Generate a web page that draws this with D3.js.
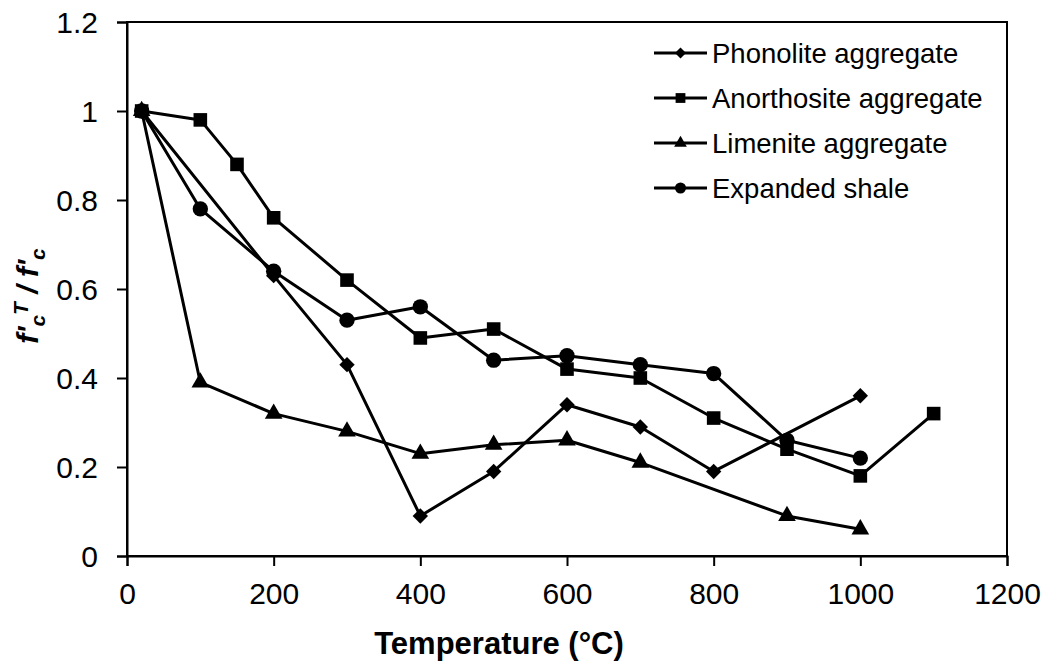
<!DOCTYPE html>
<html>
<head>
<meta charset="utf-8">
<script src="https://cdn.jsdelivr.net/npm/d3@7"></script>
<style>
  html, body { margin: 0; padding: 0; background: #fff; }
  svg { display: block; font-family: "Liberation Sans", Arial, sans-serif; }
</style>
</head>
<body>
<svg id="chart" width="1048" height="668"></svg>
<script>
// Relative residual compressive strength vs. exposure temperature
const phonoliteT = [20, 200, 300, 400, 500, 600, 700, 800, 1000];
const phonoliteV = [1.00, 0.63, 0.43, 0.09, 0.19, 0.34, 0.29, 0.19, 0.36];

const anorthositeT = [20, 100, 150, 200, 300, 400, 500, 600, 700, 800, 900, 1000, 1100];
const anorthositeV = [1.00, 0.98, 0.88, 0.76, 0.62, 0.49, 0.51, 0.42, 0.40, 0.31, 0.24, 0.18, 0.32];

const limeniteT = [20, 100, 200, 300, 400, 500, 600, 700, 900, 1000];
const limeniteV = [1.00, 0.39, 0.32, 0.28, 0.23, 0.25, 0.26, 0.21, 0.09, 0.06];

const shaleT = [20, 100, 200, 300, 400, 500, 600, 700, 800, 900, 1000];
const shaleV = [1.00, 0.78, 0.64, 0.53, 0.56, 0.44, 0.45, 0.43, 0.41, 0.26, 0.22];

const seriesNames = ["Phonolite aggregate", "Anorthosite aggregate", "Limenite aggregate", "Expanded shale"];
const xTicks = [0, 200, 400, 600, 800, 1000, 1200];
const yTicks = [0, 0.2, 0.4, 0.6, 0.8, 1, 1.2];

const series = [
  { name: seriesNames[0], t: phonoliteT, v: phonoliteV, marker: "diamond" },
  { name: seriesNames[1], t: anorthositeT, v: anorthositeV, marker: "square" },
  { name: seriesNames[2], t: limeniteT, v: limeniteV, marker: "triangle" },
  { name: seriesNames[3], t: shaleT, v: shaleV, marker: "circle" }
];

const svg = d3.select("#chart");
const plot = { left: 127, right: 1007, top: 22, bottom: 556 };

const x = d3.scaleLinear().domain([0, 1200]).range([plot.left, plot.right]);
const y = d3.scaleLinear().domain([0, 1.2]).range([plot.bottom, plot.top]);

// Plot frame
svg.append("rect")
  .attr("x", plot.left).attr("y", plot.top)
  .attr("width", plot.right - plot.left).attr("height", plot.bottom - plot.top)
  .attr("fill", "none").attr("stroke", "#000").attr("stroke-width", 2);

// Axes
const fmtY = d => d3.format("")(+d.toFixed(1));
const xAxis = svg.append("g")
  .attr("transform", `translate(0,${plot.bottom})`)
  .call(d3.axisBottom(x).tickValues(xTicks).tickSize(10).tickPadding(17).tickFormat(d3.format("d")));
const yAxis = svg.append("g")
  .attr("transform", `translate(${plot.left},0)`)
  .call(d3.axisLeft(y).tickValues(yTicks).tickSize(10).tickPadding(19).tickFormat(fmtY));

[xAxis, yAxis].forEach(g => {
  g.select(".domain").attr("stroke", "#000").attr("stroke-width", 2);
  g.selectAll(".tick line").attr("stroke", "#000").attr("stroke-width", 2);
  g.selectAll(".tick text")
    .attr("fill", "#000")
    .style("font-family", "'Liberation Sans', Arial, sans-serif")
    .style("font-size", "30px");
});
xAxis.selectAll(".tick text").attr("dy", "0.71em");
yAxis.selectAll(".tick text").attr("dy", "0.35em");

// Marker shapes
function markerPath(kind, scale) {
  const s = scale || 1;
  if (kind === "diamond") return d3.symbol().type(d3.symbolSquare).size(118 * s * s)();
  if (kind === "square") return d3.symbol().type(d3.symbolSquare).size(185 * s * s)();
  if (kind === "triangle") return d3.symbol().type(d3.symbolTriangle).size(135 * s * s)();
  return d3.symbol().type(d3.symbolCircle).size(185 * s * s)();
}
function markerTransform(kind, px, py) {
  return kind === "diamond" ? `translate(${px},${py}) rotate(45)` : `translate(${px},${py})`;
}

const line = d3.line().x(d => x(d[0])).y(d => y(d[1]));

series.forEach(s => {
  const pts = s.t.map((t, i) => [t, s.v[i]]);
  const g = svg.append("g").attr("class", "series");
  g.append("path")
    .attr("d", line(pts))
    .attr("fill", "none")
    .attr("stroke", "#000")
    .attr("stroke-width", 3)
    .attr("stroke-linejoin", "round");
  g.selectAll("path.mk")
    .data(pts)
    .join("path")
    .attr("class", "mk")
    .attr("d", markerPath(s.marker))
    .attr("transform", d => markerTransform(s.marker, x(d[0]), y(d[1])))
    .attr("fill", "#000");
});

// Legend
const legend = svg.append("g").attr("class", "legend");
const legendRow = d3.scalePoint().domain(seriesNames).range([53, 188]);
series.forEach(s => {
  const ly = legendRow(s.name);
  legend.append("line")
    .attr("x1", 654).attr("x2", 707).attr("y1", ly).attr("y2", ly)
    .attr("stroke", "#000").attr("stroke-width", 3);
  legend.append("path")
    .attr("d", markerPath(s.marker, 0.72))
    .attr("transform", markerTransform(s.marker, 680.5, ly))
    .attr("fill", "#000");
  legend.append("text")
    .attr("x", 712).attr("y", ly).attr("dy", "0.35em")
    .style("font-size", "27.5px")
    .attr("fill", "#000")
    .text(s.name);
});

// X-axis title
svg.append("text")
  .attr("x", 499).attr("y", 654)
  .attr("text-anchor", "middle")
  .style("font-size", "31px").style("font-weight", "bold")
  .attr("fill", "#000")
  .text("Temperature (°C)");

// Y-axis title: f'c^T / f'c
const yt = svg.append("text")
  .attr("transform", "translate(38,296) rotate(-90)")
  .attr("text-anchor", "middle")
  .style("font-size", "30px").style("font-weight", "bold").style("font-style", "italic")
  .attr("fill", "#000");
yt.append("tspan").text("f'");
yt.append("tspan").attr("dy", 7).style("font-size", "21px").text("c");
yt.append("tspan").attr("dy", -17).style("font-size", "21px").text("T");
yt.append("tspan").attr("dy", 10).text(" / f'");
yt.append("tspan").attr("dy", 7).style("font-size", "21px").text("c");
</script>
</body>
</html>
